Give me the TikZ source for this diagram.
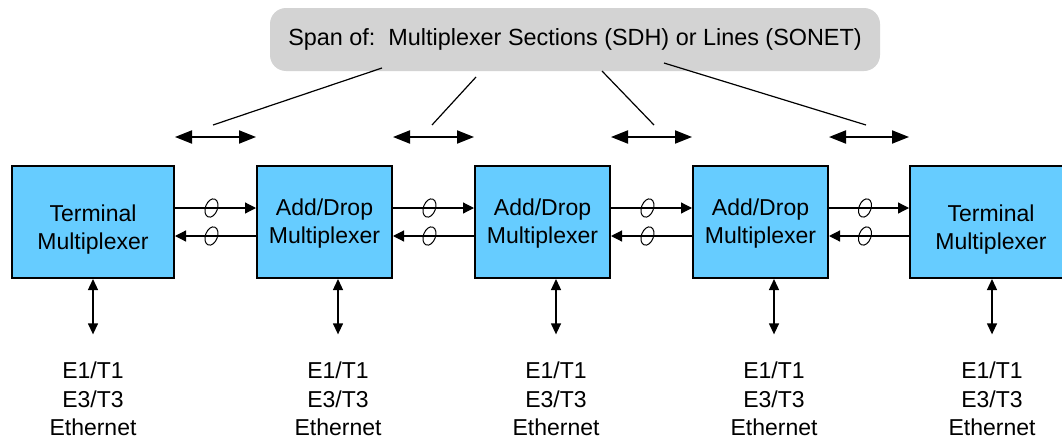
\documentclass[tikz,border=0pt]{standalone}
\usepackage{fontspec}
\setmainfont{Liberation Sans}
\usetikzlibrary{arrows.meta,shapes.geometric}
\definecolor{muxblue}{RGB}{102,204,255}
\definecolor{bannergray}{RGB}{211,211,211}
\begin{document}
\begin{tikzpicture}[x=1pt,y=-1pt,
  txt/.style={font=\fontsize{23}{28.5}\selectfont, align=center, inner sep=0pt},
  banner/.style={txt, font=\fontsize{23.4}{28.5}\selectfont, fill=bannergray, rounded corners=16pt, minimum width=610pt, minimum height=63pt},
  mux/.style={draw, line width=2pt, fill=muxblue, minimum height=112pt, inner sep=0pt},
  ring/.style={draw, ellipse, line width=1pt, minimum width=12pt, minimum height=19pt, inner sep=0pt, rotate=-20},
  link/.style={line width=1.2pt, -{Triangle[length=11pt,width=11pt]}},
  spanarrow/.style={line width=2pt, {Triangle[length=17pt,width=13pt]}-{Triangle[length=17pt,width=13pt]}},
  vert/.style={line width=1.3pt, {Triangle[length=11pt,width=10pt]}-{Triangle[length=11pt,width=10pt]}},
  pointer/.style={line width=1.2pt}
]
\useasboundingbox (0,0) rectangle (1062,439);

% banner
\node[banner] (span) at (575,39.5) {Span of:\ \ Multiplexer Sections (SDH) or Lines (SONET)};

% multiplexer boxes
\node[mux, minimum width=162pt] (m1) at (93,222) {};
\node[mux, minimum width=135pt] (m2) at (324.5,222) {};
\node[mux, minimum width=135pt] (m3) at (542.5,222) {};
\node[mux, minimum width=135pt] (m4) at (760.5,222) {};
\node[mux, minimum width=162pt] (m5) at (991,222) {};

\node[txt] (t1) at (93,229.4) {Terminal\\Multiplexer};
\node[txt] (t2) at (324.5,223.4) {Add/Drop\\Multiplexer};
\node[txt] (t3) at (542.5,223.4) {Add/Drop\\Multiplexer};
\node[txt] (t4) at (760.5,223.4) {Add/Drop\\Multiplexer};
\node[txt] (t5) at (991,229.4) {Terminal\\Multiplexer};

% links between multiplexers
\foreach \a/\b in {m1/m2,m2/m3,m3/m4,m4/m5} {
  \draw[link] ([yshift=14pt]\a.east) -- node[pos=0.45,ring]{} ([yshift=14pt]\b.west);
  \draw[link] ([yshift=-14pt]\b.west) -- node[pos=0.55,ring]{} ([yshift=-14pt]\a.east);
}

% span arrows
\coordinate (arrowrow) at (0,137);
\draw[spanarrow] (m1.east |- arrowrow) -- (m2.west |- arrowrow);
\draw[spanarrow] (m2.east |- arrowrow) -- (m3.west |- arrowrow);
\draw[spanarrow] (m3.east |- arrowrow) -- (m4.west |- arrowrow);
\draw[spanarrow] (m4.east |- arrowrow) -- (m5.west |- arrowrow);

% pointer lines from banner
\coordinate (q1) at (382,68);  \coordinate (p1) at (213,125);
\coordinate (q2) at (476,77);  \coordinate (p2) at (432,125);
\coordinate (q3) at (602,71);  \coordinate (p3) at (654,125);
\coordinate (q4) at (664,63);  \coordinate (p4) at (866,125);
\draw[pointer] (q1) -- (p1);
\draw[pointer] (q2) -- (p2);
\draw[pointer] (q3) -- (p3);
\draw[pointer] (q4) -- (p4);

% tributary labels
\node[txt] (e1) at (93,399) {E1/T1\\E3/T3\\Ethernet};
\node[txt] (e2) at (338,399) {E1/T1\\E3/T3\\Ethernet};
\node[txt] (e3) at (556,399) {E1/T1\\E3/T3\\Ethernet};
\node[txt] (e4) at (774,399) {E1/T1\\E3/T3\\Ethernet};
\node[txt] (e5) at (992,399) {E1/T1\\E3/T3\\Ethernet};

\foreach \i in {1,...,5} {
  \draw[vert] (m\i.south -| e\i) -- ([yshift=27.5pt]e\i.north);
}
\end{tikzpicture}
\end{document}
